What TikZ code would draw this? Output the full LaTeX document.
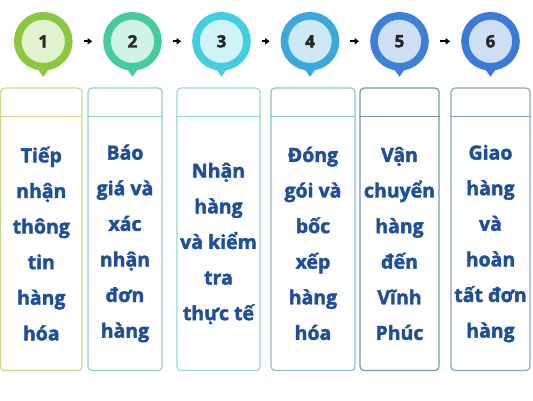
\documentclass[tikz,border=0pt]{standalone}
\usepackage{fontspec}
\setmainfont{Open Sans}[BoldFeatures={FakeBold=2}]
\usetikzlibrary{arrows.meta}

\definecolor{pinA}{HTML}{8DC63F}
\definecolor{pinB}{HTML}{45CB9C}
\definecolor{pinC}{HTML}{42CEE0}
\definecolor{pinD}{HTML}{3AA7DD}
\definecolor{pinE}{HTML}{3C80D7}
\definecolor{pinF}{HTML}{3B7AD6}
\definecolor{boxA}{HTML}{C6D98C}
\definecolor{boxB}{HTML}{8ED3C6}
\definecolor{boxC}{HTML}{93D8DE}
\definecolor{boxD}{HTML}{8DBFD7}
\definecolor{boxE}{HTML}{7194BE}
\definecolor{boxF}{HTML}{8CA2C6}
\definecolor{stepblue}{HTML}{1F4E9A}

\begin{document}
\begin{tikzpicture}[x=1pt,y=-1pt,
    pin/.style={circle,minimum size=51pt,inner sep=0pt,line width=7.6pt,
      draw=#1,fill=#1!25!white,text=black!85,
      font=\fontsize{17}{17}\selectfont\bfseries},
    stagebox/.style={draw=#1,line width=1.2pt,rounded corners=4pt,
      minimum height=282.5pt,inner sep=0pt},
    headline/.style={draw=#1,line width=1.2pt},
    steptext/.style={text=stepblue,align=center,
      font=\fontsize{19.5}{35.6}\selectfont\bfseries},
    flow/.style={-{Triangle[length=4.5pt,width=6pt]},line width=1.7pt,
      shorten <=11pt,shorten >=11pt}]
  \useasboundingbox (0,0) rectangle (533,400);

  \node[pin=pinA] (c1) at (43.3,41.3) {1};
  \node[pin=pinB] (c2) at (132.5,41.3) {2};
  \node[pin=pinC] (c3) at (221.5,41.3) {3};
  \node[pin=pinD] (c4) at (310,41.3) {4};
  \node[pin=pinE] (c5) at (399.5,41.3) {5};
  \node[pin=pinF] (c6) at (490.5,41.3) {6};

  \fill[pinA] ([shift={(-6,27)}]c1.center) -- ([shift={(6,27)}]c1.center) -- ([shift={(0,35.5)}]c1.center) -- cycle;
  \fill[pinB] ([shift={(-6,27)}]c2.center) -- ([shift={(6,27)}]c2.center) -- ([shift={(0,35.5)}]c2.center) -- cycle;
  \fill[pinC] ([shift={(-6,27)}]c3.center) -- ([shift={(6,27)}]c3.center) -- ([shift={(0,35.5)}]c3.center) -- cycle;
  \fill[pinD] ([shift={(-6,27)}]c4.center) -- ([shift={(6,27)}]c4.center) -- ([shift={(0,35.5)}]c4.center) -- cycle;
  \fill[pinE] ([shift={(-6,27)}]c5.center) -- ([shift={(6,27)}]c5.center) -- ([shift={(0,35.5)}]c5.center) -- cycle;
  \fill[pinF] ([shift={(-6,27)}]c6.center) -- ([shift={(6,27)}]c6.center) -- ([shift={(0,35.5)}]c6.center) -- cycle;

  \draw[flow] (c1) -- (c2);
  \draw[flow] (c2) -- (c3);
  \draw[flow] (c3) -- (c4);
  \draw[flow] (c4) -- (c5);
  \draw[flow] (c5) -- (c6);

  \node[stagebox=boxA,minimum width=81.5pt] (b1) at (41.3,229.3) {};
  \node[stagebox=boxB,minimum width=74pt] (b2) at (125,229.3) {};
  \node[stagebox=boxC,minimum width=83pt] (b3) at (218.5,229.3) {};
  \node[stagebox=boxD,minimum width=84pt] (b4) at (313,229.3) {};
  \node[stagebox=boxE,minimum width=79pt] (b5) at (399.5,229.3) {};
  \node[stagebox=boxF,minimum width=79pt] (b6) at (490.5,229.3) {};

  \draw[headline=boxA] ([yshift=-29pt]b1.north west) -- ([yshift=-29pt]b1.north east);
  \draw[headline=boxB] ([yshift=-29pt]b2.north west) -- ([yshift=-29pt]b2.north east);
  \draw[headline=boxC] ([yshift=-29pt]b3.north west) -- ([yshift=-29pt]b3.north east);
  \draw[headline=boxD] ([yshift=-29pt]b4.north west) -- ([yshift=-29pt]b4.north east);
  \draw[headline=boxE] ([yshift=-29pt]b5.north west) -- ([yshift=-29pt]b5.north east);
  \draw[headline=boxF] ([yshift=-29pt]b6.north west) -- ([yshift=-29pt]b6.north east);

  \node[steptext] (t1) at (b1.center |- 0,243.5) {Tiếp\\nhận\\thông\\tin\\hàng\\hóa};
  \node[steptext] (t2) at (b2.center |- 0,243.5) {Báo\\giá và\\xác\\nhận\\đơn\\hàng};
  \node[steptext] (t3) at (b3.center |- 0,243.5) {Nhận\\hàng\\và kiểm\\tra\\thực tế};
  \node[steptext] (t4) at (b4.center |- 0,243.5) {Đóng\\gói và\\bốc\\xếp\\hàng\\hóa};
  \node[steptext] (t5) at (b5.center |- 0,243.5) {Vận\\chuyển\\hàng\\đến\\Vĩnh\\Phúc};
  \node[steptext] (t6) at (b6.center |- 0,243.5) {Giao\\hàng\\và\\hoàn\\tất đơn\\hàng};
\end{tikzpicture}
\end{document}
